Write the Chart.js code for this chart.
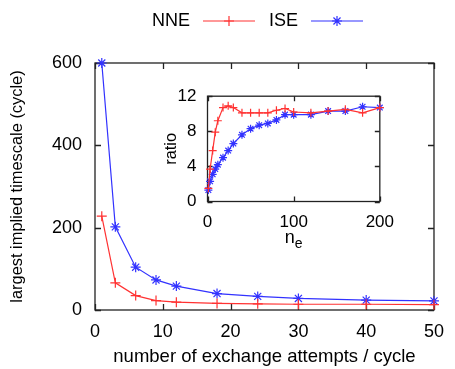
<!DOCTYPE html>
<html>
<head>
<meta charset="utf-8">
<script src="https://cdn.jsdelivr.net/npm/chart.js@4"></script>
<style>
html, body { margin: 0; padding: 0; background: #fff; }
#wrap { position: relative; width: 455px; height: 369px; }
#main { position: absolute; left: 0; top: 0; }
#inset { position: absolute; left: 160px; top: 75px; }
</style>
</head>
<body>
<div id="wrap">
  <canvas id="main" width="455" height="369"></canvas>
  <canvas id="inset" width="245" height="180"></canvas>
</div>
<script>
// main plot: largest implied timescale vs exchange attempts
const attempts = [1, 3, 6, 9, 12, 18, 24, 30, 40, 50];
const nneTimescale = [228, 66, 35, 23, 19, 16, 15, 14, 14, 13];
const iseTimescale = [600, 202, 104, 73, 58, 40, 33, 28, 24, 22];

// inset: ratio vs n_e
const ne = [1, 3, 6, 9, 12, 18, 24, 30, 40, 50, 60, 70, 80, 90, 100, 120, 140, 160, 180, 200];
const nneRatio = [1.5, 3.7, 5.8, 7.9, 9.2, 10.7, 10.9, 10.7, 10.1, 10.1, 10.1, 10.1, 10.4, 10.6, 10.2, 10.1, 10.3, 10.5, 10.1, 10.7];
const iseRatio = [1.3, 2.3, 3.1, 3.7, 4.2, 5.0, 5.8, 6.6, 7.6, 8.3, 8.7, 8.9, 9.3, 9.9, 9.9, 9.9, 10.3, 10.3, 10.8, 10.7];

const seriesNames = ['NNE', 'ISE'];
const RED = 'rgb(255,50,50)';
const BLUE = 'rgb(50,50,255)';
const FONT = 'Liberation Sans, Arial, sans-serif';

const pts = (xs, ys) => xs.map((x, i) => ({ x: x, y: ys[i] }));

// border box + inward ticks on all four sides, gnuplot style
const frameTicks = {
    id: 'frameTicks',
    beforeDatasetsDraw(chart, args, opts) {
        const { ctx, chartArea: a, scales: { x, y } } = chart;
        const L = opts.len || 6;
        ctx.save();
        ctx.strokeStyle = '#222';
        ctx.lineWidth = 1.3;
        ctx.strokeRect(a.left, a.top, a.right - a.left, a.bottom - a.top);
        ctx.beginPath();
        x.ticks.forEach(t => {
            const p = Math.round(x.getPixelForValue(t.value)) + 0.5;
            ctx.moveTo(p, a.bottom); ctx.lineTo(p, a.bottom - L);
            ctx.moveTo(p, a.top); ctx.lineTo(p, a.top + L);
        });
        y.ticks.forEach(t => {
            const p = Math.round(y.getPixelForValue(t.value)) + 0.5;
            ctx.moveTo(a.left, p); ctx.lineTo(a.left + L, p);
            ctx.moveTo(a.right, p); ctx.lineTo(a.right - L, p);
        });
        ctx.stroke();
        ctx.restore();
    }
};

// key at the top: label then a line sample with its marker
const topKey = {
    id: 'topKey',
    afterDraw(chart) {
        const { ctx } = chart;
        const items = [
            { text: seriesNames[0], tx: 190, x0: 203, x1: 255, ds: chart.data.datasets[0] },
            { text: seriesNames[1], tx: 298, x0: 311, x1: 363, ds: chart.data.datasets[1] }
        ];
        const yc = 21;
        ctx.save();
        ctx.font = '18px ' + FONT;
        ctx.fillStyle = '#000';
        ctx.textAlign = 'right';
        ctx.textBaseline = 'middle';
        items.forEach(it => {
            ctx.fillText(it.text, it.tx, yc);
            ctx.strokeStyle = it.ds.borderColor;
            ctx.lineWidth = 1.2;
            ctx.beginPath();
            ctx.moveTo(it.x0, yc); ctx.lineTo(it.x1, yc);
            ctx.stroke();
            Chart.helpers.drawPoint(ctx, {
                pointStyle: it.ds.pointStyle, radius: it.ds.pointRadius,
                borderWidth: 1.2, rotation: 0
            }, (it.x0 + it.x1) / 2, yc);
        });
        ctx.restore();
    }
};

// inset x title: n with subscript e
const subTitle = {
    id: 'subTitle',
    afterDraw(chart) {
        const { ctx, chartArea: a } = chart;
        ctx.save();
        ctx.fillStyle = '#000';
        ctx.textBaseline = 'alphabetic';
        ctx.textAlign = 'left';
        ctx.font = '18px ' + FONT;
        const wn = ctx.measureText('n').width;
        ctx.font = '14px ' + FONT;
        const we = ctx.measureText('e').width;
        const x0 = (a.left + a.right) / 2 - (wn + we) / 2;
        ctx.font = '18px ' + FONT;
        ctx.fillText('n', x0, 168);
        ctx.font = '14px ' + FONT;
        ctx.fillText('e', x0 + wn, 173);
        ctx.restore();
    }
};

function ds(label, data, color, style, r) {
    return {
        label: label, data: data,
        borderColor: color, backgroundColor: color,
        borderWidth: 1.2, pointStyle: style, pointRadius: r,
        pointBorderWidth: 1.2, pointBorderColor: color,
        tension: 0, clip: false
    };
}

function axis(min, max, step, fitSize, horizontal, tickSize, tickPad, title, titleSize, titlePad) {
    return {
        type: 'linear', min: min, max: max,
        grid: { display: false, drawTicks: false },
        border: { display: false },
        ticks: { stepSize: step, color: '#000', font: { family: FONT, size: tickSize }, padding: tickPad },
        title: { display: !!title, text: title, color: '#000', font: { family: FONT, size: titleSize }, padding: titlePad },
        afterFit: s => { if (horizontal) s.height = fitSize; else s.width = fitSize; }
    };
}

new Chart(document.getElementById('main').getContext('2d'), {
    type: 'line',
    data: {
        datasets: [
            ds(seriesNames[0], pts(attempts, nneTimescale), RED, 'cross', 5),
            ds(seriesNames[1], pts(attempts, iseTimescale), BLUE, 'star', 5)
        ]
    },
    options: {
        responsive: false, animation: false,
        layout: { padding: { top: 63, right: 16, left: 0, bottom: 0 } },
        plugins: { legend: { display: false }, tooltip: { enabled: false }, frameTicks: { len: 6 } },
        scales: {
            x: axis(0, 50, 10, 59, true, 18, 11, 'number of exchange attempts / cycle', 18.5, { top: 0, bottom: 0.5 }),
            y: axis(0, 600, 200, 95, false, 18, 13, 'largest implied timescale (cycle)', 16.4, { top: 8, bottom: 0 })
        }
    },
    plugins: [frameTicks, topKey]
});

new Chart(document.getElementById('inset').getContext('2d'), {
    type: 'line',
    data: {
        datasets: [
            ds(seriesNames[0], pts(ne, nneRatio), RED, 'cross', 4),
            ds(seriesNames[1], pts(ne, iseRatio), BLUE, 'star', 4)
        ]
    },
    options: {
        responsive: false, animation: false,
        layout: { padding: { top: 17.5, right: 14, left: 0, bottom: 0 } },
        plugins: { legend: { display: false }, tooltip: { enabled: false }, frameTicks: { len: 5 } },
        scales: {
            x: axis(0, 200, 100, 53.5, true, 17, 11, '', 16, { top: 0, bottom: 0 }),
            y: axis(0, 12, 4, 47.5, false, 17, 11, 'ratio', 16.4, { top: 2, bottom: 0 })
        }
    },
    plugins: [frameTicks, subTitle]
});
</script>
</body>
</html>
